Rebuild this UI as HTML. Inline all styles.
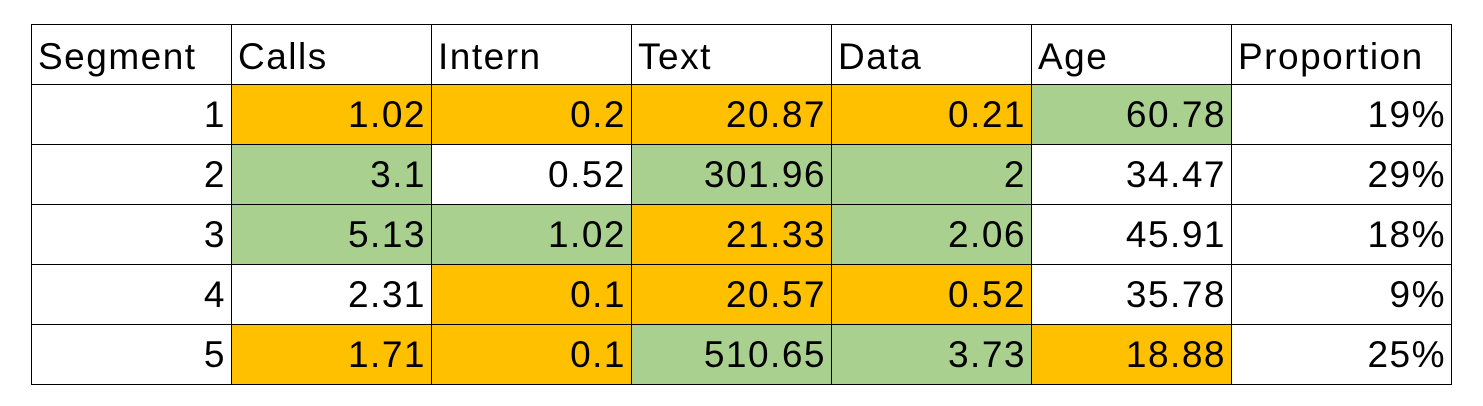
<!DOCTYPE html>
<html><head><meta charset="utf-8"><style>
body{margin:0;width:1483px;height:406px;background:#fff;position:relative;overflow:hidden;font-family:"Liberation Sans",sans-serif;}
.c{position:absolute;box-sizing:border-box;border:1px solid #000;font-size:37px;line-height:60px;color:#000;letter-spacing:1.5px;white-space:nowrap}
.h{text-align:left;padding-left:6px;line-height:64px}
.v{text-align:right;padding-right:5px}
.o{background:#FFC000}.g{background:#A9D08E}
</style></head><body>
<div id="t"></div>
<script>
const headers=["Segment","Calls","Intern","Text","Data","Age","Proportion"];
const rows=[["1","1.02","0.2","20.87","0.21","60.78","19%"],["2","3.1","0.52","301.96","2","34.47","29%"],["3","5.13","1.02","21.33","2.06","45.91","18%"],["4","2.31","0.1","20.57","0.52","35.78","9%"],["5","1.71","0.1","510.65","3.73","18.88","25%"]];
const fills=[["","o","o","o","o","g",""],["","g","","g","g","",""],["","g","g","o","g","",""],["","","o","o","o","",""],["","o","o","g","g","o",""]];
const xs=[31,231,431,631,831,1031,1231,1451];
const top0=24,rh=60;
const t=document.getElementById('t');
function cell(r,c,text,cls){
  const d=document.createElement('div');
  d.className='c '+cls;
  d.style.left=xs[c]+'px';d.style.width=(xs[c+1]-xs[c]+1)+'px';
  d.style.top=(top0+r*rh)+'px';d.style.height=(rh+1)+'px';
  d.textContent=text;
  
  
  t.appendChild(d);
}
headers.forEach((h,c)=>cell(0,c,h,'h'));
rows.forEach((row,r)=>row.forEach((v,c)=>cell(r+1,c,v,'v '+fills[r][c])));
</script>
</body></html>
